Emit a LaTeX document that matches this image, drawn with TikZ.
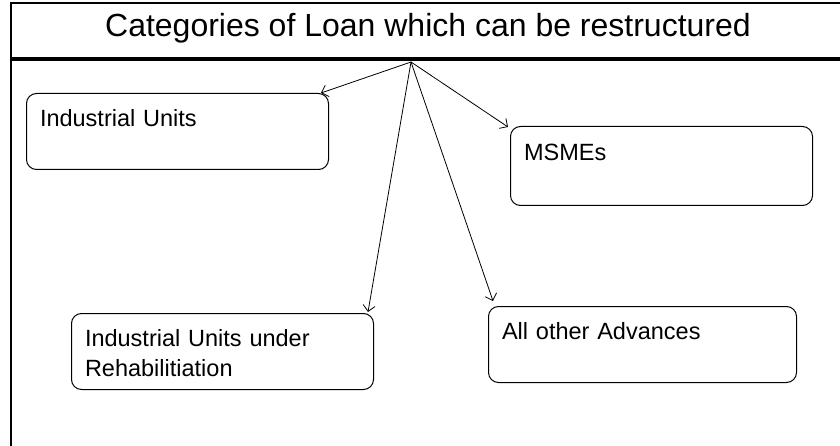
\documentclass[tikz,border=0pt]{standalone}
\usepackage{fontspec}
\setmainfont{Liberation Sans}
\usetikzlibrary{arrows.meta}
\tikzset{
  catbox/.style={draw, line width=1pt, rounded corners=10pt, anchor=north west, inner xsep=13.5pt,
    inner ysep=15pt, text width=275pt, align=left, text height=18pt, text depth=28pt,
    font=\fontsize{23.5}{30}\selectfont},
  catarrow/.style={line width=0.8pt, -{Straight Barb[length=6pt,width=12pt]}}
}
\begin{document}
\begin{tikzpicture}[x=1pt,y=1pt,yscale=-1,xscale=1]
    \useasboundingbox (0,0) rectangle (840,446);
    %Frame
    \draw [line width=1.2pt]  (840,3) -- (11,3) -- (11,446) ;
    \draw [line width=3.5pt]  (11,59) -- (840,59) ;
    % Text Node
    \node (title) [anchor=base, inner sep=0pt, font=\fontsize{32}{38}\selectfont] at (428,37) {Categories of Loan which can be restructured};
    \coordinate (hub) at (411,62);
    % Boxes
    \node (iu) [catbox] at (26,93) {Industrial Units};
    \node (msme) [catbox, minimum height=79pt] at (510,126) {MSMEs};
    \node (rehab) [catbox] at (71,313) {Industrial Units under\\Rehabilitiation};
    \node (adv) [catbox, text width=281pt] at (488,306) {All other Advances};
    % Arrows
    \draw [catarrow] (hub) -- ([xshift=-8pt]iu.north east);
    \draw [catarrow] (hub) -- ([xshift=-2pt,yshift=1pt]msme.north west);
    \draw [catarrow] (hub) -- ([xshift=-6pt,yshift=-1pt]rehab.north east);
    \draw [catarrow] (hub) -- ([xshift=5pt,yshift=-5pt]adv.north west);
\end{tikzpicture}
\end{document}
